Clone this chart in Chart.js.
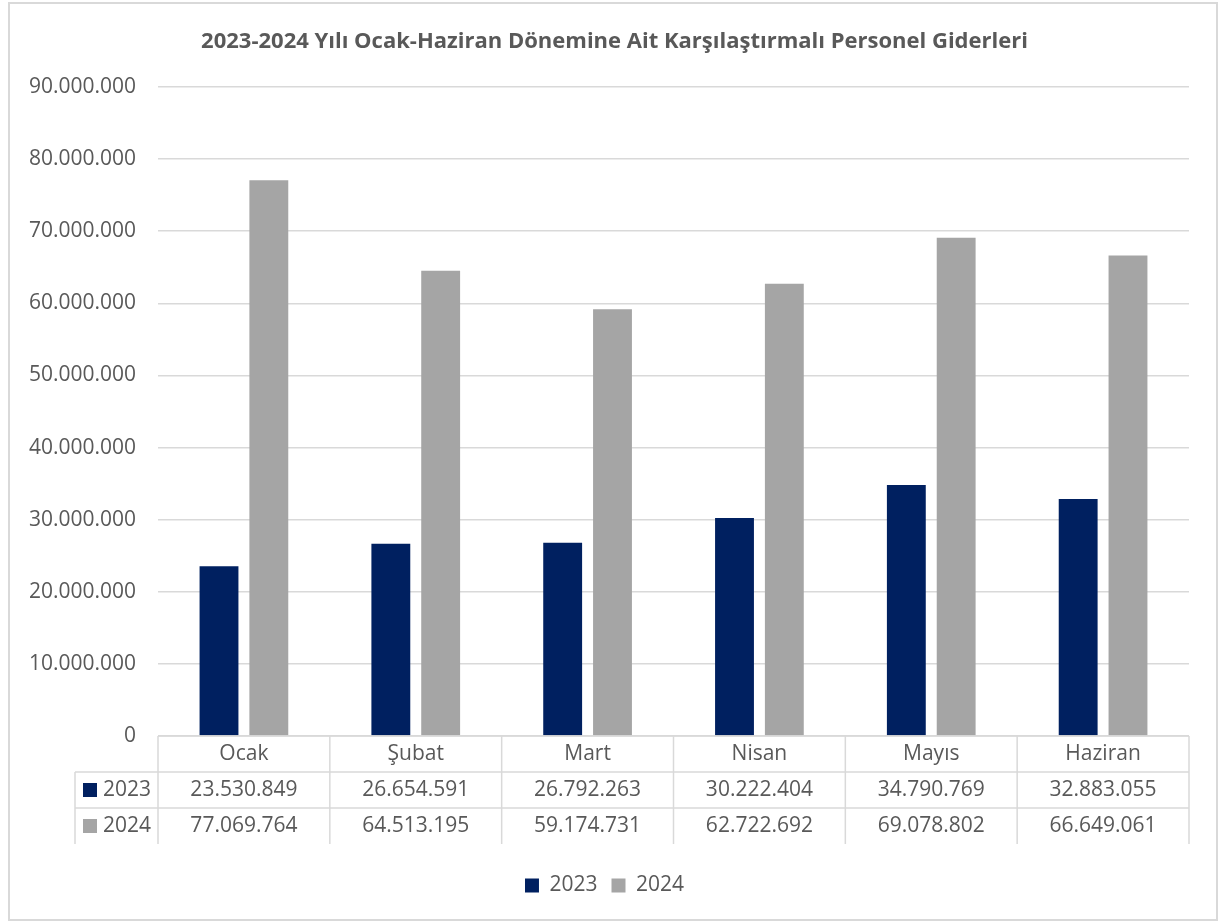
<!DOCTYPE html>
<html>
<head>
<meta charset="utf-8">
<script src="https://cdn.jsdelivr.net/npm/chart.js@4"></script>
<style>
  body { margin: 0; background: #fff; }
  #wrap { width: 1219px; height: 923px; position: relative; }
</style>
</head>
<body>
<div id="wrap"><canvas id="myChart"></canvas></div>
<script>
const months = ['Ocak', 'Şubat', 'Mart', 'Nisan', 'Mayıs', 'Haziran'];
const values2023 = [23530849, 26654591, 26792263, 30222404, 34790769, 32883055];
const values2024 = [77069764, 64513195, 59174731, 62722692, 69078802, 66649061];
const seriesNames = ['2023', '2024'];
const colors = ['#002060', '#a5a5a5'];
const chartTitle = '2023-2024 Yılı Ocak-Haziran Dönemine Ait Karşılaştırmalı Personel Giderleri';

const textColor = '#595959';
const lineColor = '#d9d9d9';
const fontFamily = "'Open Sans', 'Noto Sans', sans-serif";

function fmt(v) {
  return String(Math.round(v)).replace(/\B(?=(\d{3})+(?!\d))/g, '.');
}

// title, data table under the x axis and the outer frame
const dataTable = {
  id: 'dataTable',
  afterDraw(chart) {
    const ctx = chart.ctx;
    const x = chart.scales.x;
    const area = chart.chartArea;
    const rowH = 36;
    const top = area.bottom;
    const left = area.left;
    const right = area.right;
    const labelLeft = 75;
    const step = (right - left) / months.length;
    const rows = [values2023, values2024];

    ctx.save();
    ctx.fillStyle = textColor;
    ctx.font = 'bold 22px ' + fontFamily;
    ctx.textAlign = 'center';
    ctx.textBaseline = 'middle';
    ctx.fillText(chartTitle, chart.width / 2 + 5, 42);

    ctx.strokeStyle = lineColor;
    ctx.lineWidth = 1.5;
    ctx.beginPath();
    ctx.moveTo(left, top); ctx.lineTo(right, top);
    for (let r = 1; r <= rows.length; r++) {
      ctx.moveTo(labelLeft, top + rowH * r); ctx.lineTo(right, top + rowH * r);
    }
    ctx.moveTo(labelLeft, top + rowH); ctx.lineTo(labelLeft, top + rowH * 3);
    for (let i = 0; i <= months.length; i++) {
      const px = left + step * i;
      ctx.moveTo(px, top); ctx.lineTo(px, top + rowH * 3);
    }
    ctx.stroke();

    ctx.font = '21px ' + fontFamily;
    months.forEach((m, i) => {
      const cx = x.getPixelForValue(i);
      ctx.fillText(m, cx, top + rowH / 2);
      rows.forEach((row, r) => {
        ctx.fillText(fmt(row[i]), cx, top + rowH * (r + 1.5));
      });
    });

    rows.forEach((row, r) => {
      const cy = top + rowH * (r + 1.5);
      ctx.fillStyle = colors[r];
      ctx.fillRect(83, cy - 7, 14, 14);
      ctx.fillStyle = textColor;
      ctx.textAlign = 'left';
      ctx.fillText(seriesNames[r], 103, cy);
    });

    ctx.lineWidth = 2;
    ctx.strokeRect(9, 3, 1208, 917);
    ctx.restore();
  }
};

const ctx = document.getElementById('myChart').getContext('2d');
new Chart(ctx, {
  type: 'bar',
  data: {
    labels: months,
    datasets: [
      { label: seriesNames[0], data: values2023, backgroundColor: colors[0] },
      { label: seriesNames[1], data: values2024, backgroundColor: colors[1] }
    ]
  },
  options: {
    responsive: true,
    maintainAspectRatio: false,
    animation: false,
    categoryPercentage: 0.58,
    barPercentage: 0.78,
    layout: { padding: { left: 20, right: 30, top: 87, bottom: 17 } },
    plugins: {
      legend: {
        position: 'bottom',
        labels: {
          color: textColor,
          font: { family: fontFamily, size: 21 },
          boxWidth: 14,
          boxHeight: 14,
          padding: 14
        }
      },
      tooltip: { enabled: false }
    },
    scales: {
      x: {
        grid: { display: false },
        border: { display: false },
        ticks: { display: false },
        afterFit(scale) { scale.height = 125; }
      },
      y: {
        min: 0,
        max: 90000000,
        ticks: {
          stepSize: 10000000,
          color: textColor,
          font: { family: fontFamily, size: 21 },
          padding: 22,
          callback: v => fmt(v)
        },
        grid: { color: lineColor, lineWidth: 1.5, drawTicks: false },
        border: { display: false },
        afterFit(scale) { scale.width = 138; }
      }
    }
  },
  plugins: [dataTable]
});
</script>
</body>
</html>
